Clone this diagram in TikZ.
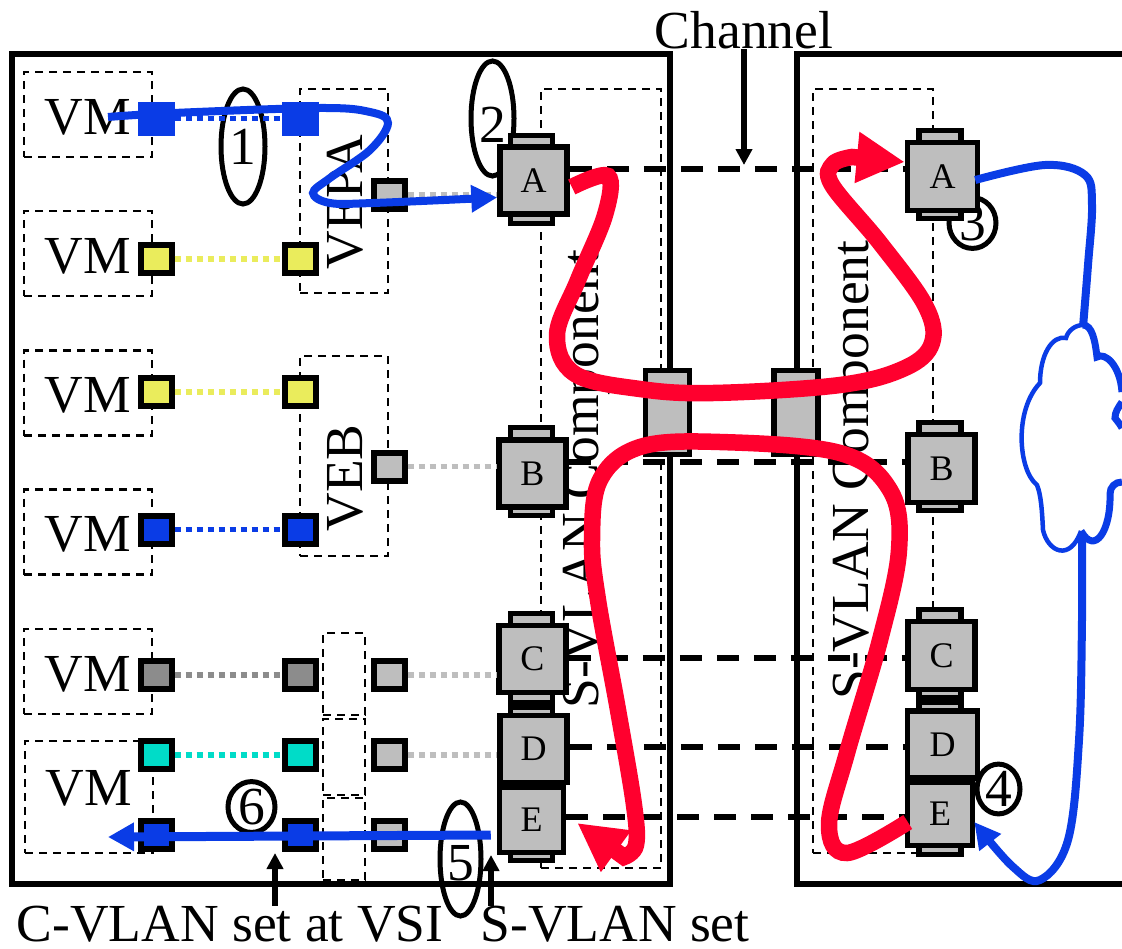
\documentclass[tikz,border=0pt]{standalone}
\usepackage{fontspec}
\setmainfont{Liberation Serif}
\usepackage{xcolor}
\usetikzlibrary{arrows.meta, shapes.geometric}
\definecolor{flowblue}{RGB}{10, 60, 230}
\definecolor{flowred}{RGB}{255, 0, 46}
\definecolor{swgray}{RGB}{190, 190, 190}
\definecolor{portgray}{RGB}{140, 140, 140}
\definecolor{portyellow}{RGB}{234, 236, 92}
\definecolor{portcyan}{RGB}{0, 220, 200}
\newcommand{\bigfont}{\fontsize{53.5}{60}\selectfont}
\newcommand{\swfont}{\fontsize{36}{40}\selectfont}
\tikzset{
    dashbox/.style={draw, line width=2.6pt, dash pattern=on 8pt off 6pt, inner sep=0pt},
    vmbox/.style={dashbox, minimum width=128pt, minimum height=85pt, text height=40pt, font=\bigfont},
    vebbox/.style={dashbox, minimum width=88pt},
    stubbox/.style={dashbox, minimum width=42pt},
    compbox/.style={dashbox, minimum width=120pt},
    portnode/.style={draw, line width=6pt, minimum width=31pt, minimum height=28pt, inner sep=0pt},
    blueport/.style={portnode, fill=flowblue},
    yellowport/.style={portnode, fill=portyellow},
    grayport/.style={portnode, fill=portgray},
    cyanport/.style={portnode, fill=portcyan},
    lightport/.style={portnode, fill=swgray},
    tabnode/.style={draw, line width=5.5pt, fill=swgray, minimum width=42pt, minimum height=16pt, inner sep=0pt},
    switchnode/.style={draw, line width=5.5pt, fill=swgray, minimum width=67pt, minimum height=67pt, inner sep=0pt, font=\swfont},
    trunknode/.style={draw, line width=5.5pt, fill=swgray, minimum width=44pt, minimum height=84pt, inner sep=0pt},
    callout/.style={ellipse, draw, line width=5pt, inner sep=0pt, font=\bigfont},
    bigtext/.style={inner sep=0pt, font=\bigfont},
    vlink/.style={line width=5.5pt, dash pattern=on 6pt off 5pt},
    channelline/.style={line width=6pt, dash pattern=on 22pt off 15pt},
    blueflow/.style={draw=flowblue, line width=8pt},
    redflow/.style={draw=flowred, line width=16.5pt},
    pointer/.style={line width=5.5pt, -{Triangle[length=16pt,width=16pt]}}
}
\begin{document}
\begin{tikzpicture}[x=1pt,y=-1pt]
    \useasboundingbox (0,0) rectangle (1122,948);

    % servers
    \draw[line width=6pt] (12,54) rectangle (670,884);
    \draw[line width=6pt] (1122,54) -- (797,54) -- (797,884) -- (1122,884);

    % dashed boxes
    \node[vmbox] (vm1) at (88,114.5) {VM};
    \node[vmbox] (vm2) at (88,253.5) {VM};
    \node[vmbox] (vm3) at (88,393) {VM};
    \node[vmbox] (vm4) at (88,532) {VM};
    \node[vmbox] (vm5) at (88,671.5) {VM};
    \node[vmbox, minimum height=112pt] (vm6) at (89,797) {\raisebox{12pt}{VM}};
    \node[vebbox, minimum height=204pt] (vepa) at (344,191) {};
    \node[vebbox, minimum height=200pt] (veb) at (344,456) {};
    \node[stubbox, minimum height=82pt] (stub1) at (344,674) {};
    \node[stubbox, minimum height=76pt] (stub2) at (344,757) {};
    \node[stubbox, minimum height=82pt] (stub3) at (344,839) {};
    \node[compbox, minimum height=779pt] (compl) at (601,478.5) {};
    \node[compbox, minimum height=764pt] (compr) at (873,471) {};

    % rotated labels
    \node[bigtext, rotate=90] (vepatext) at (345,202) {VEPA};
    \node[bigtext, rotate=90] (vebtext) at (345,478) {VEB};
    \node[bigtext, rotate=90] (compltext) at (586,479) {S-VLAN Component};
    \node[bigtext, rotate=90] (comprtext) at (856,470) {S-VLAN Component};

    % numbered marks
    \node[callout, minimum width=44pt, minimum height=115pt] (mark1) at (243,146.5) {1};
    \node[callout, minimum width=43pt, minimum height=115pt, text height=47pt] (mark2) at (492.5,118.5) {2};
    \node[callout, minimum size=47pt] (mark3) at (972.5,223) {3};
    \node[callout, minimum size=43pt] (mark4) at (998.5,789) {4};
    \node[callout, minimum width=41pt, minimum height=114pt, text height=43pt] (mark5) at (460.5,859) {5};
    \node[callout, minimum width=47pt, minimum height=46pt] (mark6) at (251.5,807) {6};

    % ports
    \node[portnode, draw=flowblue, fill=flowblue] (pa1) at (156,118.5) {};
    \node[portnode, draw=flowblue, fill=flowblue] (pb1) at (300.5,118.5) {};
    \node[yellowport] (pa2) at (156,259) {};
    \node[yellowport] (pb2) at (300.5,259) {};
    \node[yellowport] (pa3) at (156,392) {};
    \node[yellowport] (pb3) at (300.5,392) {};
    \node[blueport] (pa4) at (156,529.5) {};
    \node[blueport] (pb4) at (300.5,529.5) {};
    \node[grayport] (pa5) at (156,675) {};
    \node[grayport] (pb5) at (300.5,675) {};
    \node[cyanport] (pa6) at (156,755) {};
    \node[cyanport] (pb6) at (300.5,755) {};
    \node[blueport] (pa7) at (156,835) {};
    \node[blueport] (pb7) at (300.5,835) {};
    \node[lightport] (pc1) at (389,195) {};
    \node[lightport] (pc2) at (389,466.5) {};
    \node[lightport] (pc5) at (389,675) {};
    \node[lightport] (pc6) at (389,755) {};
    \node[lightport] (pc7) at (389,835) {};

    % trunks between the servers
    \node[trunknode] (trunkl) at (667.5,412.5) {};
    \node[trunknode] (trunkr) at (796,412.5) {};

    % left switches
    \node[tabnode] (latop) at (531.5,143.5) {};
    \node[tabnode] (labot) at (531.5,215.5) {};
    \node[switchnode] (la) at (533.5,180.5) {A};
    \node[tabnode] (lbtop) at (531.5,435.5) {};
    \node[tabnode] (lbbot) at (531.5,507.5) {};
    \node[switchnode] (lb) at (532.5,473.5) {B};
    \node[tabnode] (lctop) at (531.5,621.5) {};
    \node[tabnode] (lcbot) at (531.5,694.5) {};
    \node[switchnode] (lc) at (532.5,659) {C};
    \node[tabnode] (ldtop) at (531.5,715.5) {};
    \node[switchnode] (ld) at (533.5,749) {D};
    \node[tabnode] (lebot) at (531.5,852.5) {};
    \node[switchnode, minimum width=64pt, minimum height=65pt] (le) at (531.5,820) {E};

    % right switches
    \node[tabnode] (ratop) at (940,138.5) {};
    \node[tabnode] (rabot) at (940,210.5) {};
    \node[switchnode, minimum width=70pt, minimum height=68pt] (ra) at (942.5,176.5) {A};
    \node[tabnode] (rbtop) at (940,430.5) {};
    \node[tabnode] (rbbot) at (940,502.5) {};
    \node[switchnode, minimum height=68pt] (rb) at (941.5,468.5) {B};
    \node[tabnode] (rctop) at (940,617.5) {};
    \node[tabnode] (rcbot) at (940,689.5) {};
    \node[switchnode, minimum height=68pt] (rc) at (941.5,655.5) {C};
    \node[tabnode] (rdtop) at (940,710.5) {};
    \node[switchnode, minimum width=70pt] (rd) at (942.5,744.5) {D};
    \node[tabnode] (rebot) at (940,846.5) {};
    \node[switchnode, minimum width=65pt, minimum height=63pt] (re) at (940,814) {E};

    % dotted links
    \draw[vlink, flowblue] (pa1) -- (pb1);
    \draw[vlink, portyellow] (pa2) -- (pb2);
    \draw[vlink, portyellow] (pa3) -- (pb3);
    \draw[vlink, flowblue] (pa4) -- (pb4);
    \draw[vlink, portgray] (pa5) -- (pb5);
    \draw[vlink, portcyan] (pa6) -- (pb6);
    \draw[vlink, swgray] (pc1) -- (pc1 -| la.west);
    \draw[vlink, swgray] (pc2) -- (pc2 -| lb.west);
    \draw[vlink, swgray] (pc5) -- (pc5 -| lc.west);
    \draw[vlink, swgray] (pc6) -- (pc6 -| ld.west);

    % channels
    \draw[channelline] ([yshift=11.5pt]la.east) -- ([yshift=7.5pt]ra.west);
    \draw[channelline] ([yshift=11.5pt]lb.east) -- ([yshift=6.5pt]rb.west);
    \draw[channelline] ([yshift=1pt]lc.east) -- ([yshift=-2.5pt]rc.west);
    \draw[channelline] ([yshift=2pt]ld.east) -- ([yshift=-2.5pt]rd.west);
    \draw[channelline] ([yshift=3pt]le.east) -- ([yshift=-3pt]re.west);

    % cloud
    \coordinate (cloudtop) at (1083,327);
    \coordinate (cloudbot) at (1082,532);
    \draw[fill=white, draw=flowblue, line width=4.5pt] (1081,531)
        .. controls (1070,562) and (1048,552) .. (1043,530)
        .. controls (1042,510) and (1041,495) .. (1037,485)
        .. controls (1018,470) and (1014,410) .. (1040,383)
        .. controls (1040,355) and (1052,335) .. (1066,338)
        .. controls (1068,330) and (1076,325) .. (1083,325);
    \draw[flowblue, line width=7pt] (1083,325) .. controls (1092,325) and (1095,340) .. (1097,357)
        .. controls (1105,352) and (1120,365) .. (1122,392);
    \draw[flowblue, line width=7pt] (1122,402) .. controls (1118,408) and (1115,412) .. (1115,418)
        .. controls (1118,422) and (1120,424) .. (1122,428);
    \draw[flowblue, line width=7pt] (1122,482) .. controls (1115,482) and (1110,487) .. (1110,494)
        .. controls (1111,530) and (1095,556) .. (1081,531);

    % blue paths
    \coordinate (vmsrc) at (108,117);
    \coordinate (vmdst) at (108,837);
    \draw[blueflow, -{Triangle[length=26pt,width=26pt]}] plot[smooth, tension=0.6] coordinates {(vmsrc) (173,113) (319,108) (370,112) (388,123) (370,150) (330,178) (313,193) (330,203) (373,203) ([yshift=-17pt]la.west)};
    \draw[blueflow, line width=9pt, -{Triangle[length=26pt,width=27pt]}] ([xshift=-6pt,yshift=-15pt]le.west) -- (vmdst);
    \draw[blueflow] plot[smooth, tension=0.6] coordinates {([xshift=-5pt,yshift=-3.5pt]ra.east) (1045,165) (1085,175) (1092,205) (1088,265) (cloudtop)};
    \draw[blueflow, -{Triangle[length=26pt,width=26pt]}] plot[smooth, tension=0.6] coordinates {(cloudbot) (1082,620) (1079,740) (1068,840) (1040,880) (1012,866) ([xshift=-1pt,yshift=-8pt]re.east)};

    % red paths
    \draw[redflow, -{Triangle[length=48pt,width=48pt]}] plot[smooth, tension=0.6] coordinates {([xshift=2pt,yshift=-6.5pt]la.east) (608,176) (605,215) (578,280) (557,335) (575,374) (640,389) (713,393) (840,385) (905,368) (932,343) (925,305) (880,243) (832,185) (833,164) (852,157)} -- ([yshift=14.5pt]ra.west);
    \draw[redflow, -{Triangle[length=48pt,width=48pt]}] plot[smooth, tension=0.6] coordinates {([xshift=3pt,yshift=-8pt]re.west) (847,853) (829,825) (847,753) (880,640) (899,550) (890,490) (840,453) (720,442) (640,447) (600,480) (592,540) (598,600) (618,710) (634,805) (636,845) (624,857)} -- ([xshift=11pt,yshift=-3pt]le.east);

    % captions
    \node[bigtext] (chantext) at (744,30) {Channel};
    \node[bigtext] (cvlantext) at (230,924) {C-VLAN set at VSI};
    \node[bigtext] (svlantext) at (615,924) {S-VLAN set};
    \coordinate (chanhit) at (744,165);
    \coordinate (cvlanhit) at (275,853);
    \coordinate (svlanhit) at (491,855);
    \draw[pointer] (chantext.south -| chanhit) -- (chanhit);
    \draw[pointer] (cvlantext.north -| cvlanhit) -- (cvlanhit);
    \draw[pointer] (svlantext.north -| svlanhit) -- (svlanhit);
\end{tikzpicture}
\end{document}
